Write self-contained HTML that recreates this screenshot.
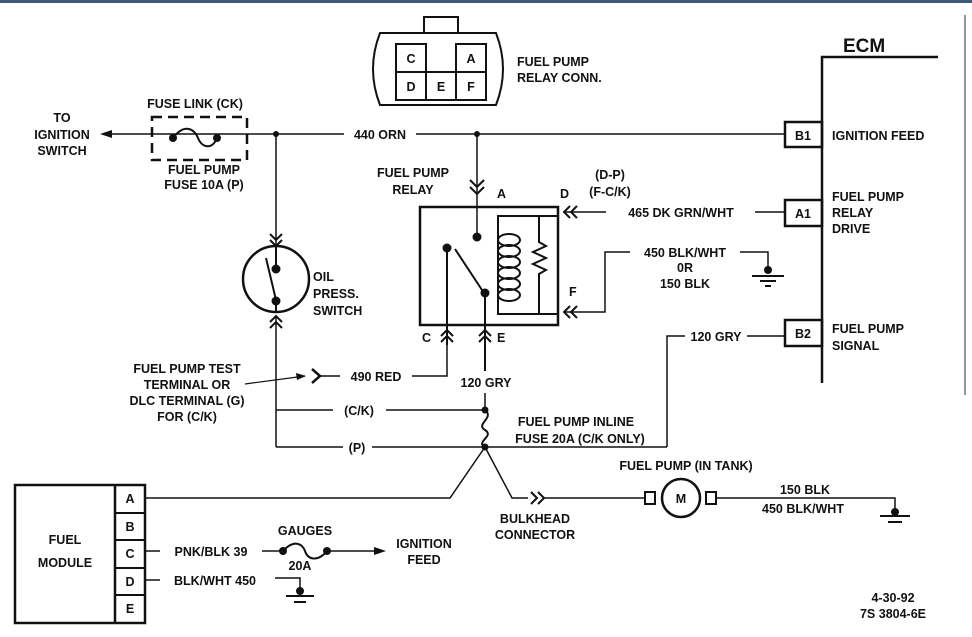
<!DOCTYPE html>
<html><head><meta charset="utf-8"><style>
html,body{margin:0;padding:0;background:#fff;}
svg{display:block;}
text{font-family:"Liberation Sans",sans-serif;font-weight:bold;font-size:12.5px;fill:#111;}
</style></head><body>
<svg width="972" height="637" viewBox="0 0 972 637" xmlns="http://www.w3.org/2000/svg">
<rect x="0" y="0" width="972" height="3" fill="#3c5a7c"/>
<line x1="965" y1="15" x2="965" y2="395" stroke="#777" stroke-width="1.5"/>
<g stroke="#111" stroke-width="2" fill="none">
<path d="M380,33 L496,33 Q510,69 496,105 L380,105 Q366,69 380,33 Z"/>
<rect x="424" y="17" width="34" height="16"/>
<rect x="396" y="44" width="30" height="28"/>
<rect x="456" y="44" width="30" height="28"/>
<rect x="396" y="72" width="30" height="28"/>
<rect x="426" y="72" width="30" height="28"/>
<rect x="456" y="72" width="30" height="28"/>
<polyline points="938,57 822,57 822,383" stroke-width="2.5"/>
<rect x="785" y="122" width="37" height="25" stroke-width="2.5"/>
<rect x="785" y="200" width="37" height="26" stroke-width="2.5"/>
<rect x="785" y="320" width="37" height="26" stroke-width="2.5"/>
<line x1="108" y1="134" x2="344" y2="134" stroke-width="1.5"/>
<line x1="416" y1="134" x2="785" y2="134" stroke-width="1.5"/>
<rect x="152" y="117" width="95" height="43" stroke-dasharray="10,6" stroke-width="2.5"/>
<path d="M173,138 C185,122 195,130 198,138 C202,148 212,150 217,138"/>
<line x1="276" y1="134" x2="276" y2="245" stroke-width="1.5"/>
<polyline points="270,234 276,240 282,234"/><polyline points="270,240 276,246 282,240"/>
<circle cx="276" cy="279" r="33" stroke-width="2.5"/>
<line x1="276" y1="246" x2="276" y2="269"/>
<line x1="266" y1="258" x2="276" y2="300"/>
<line x1="276" y1="300" x2="276" y2="312"/>
<polyline points="270,322 276,316 282,322"/><polyline points="270,328 276,322 282,328"/>
<line x1="276" y1="317" x2="276" y2="447" stroke-width="1.5"/>
<line x1="276" y1="410" x2="333" y2="410" stroke-width="1.5"/>
<line x1="386" y1="410" x2="485" y2="410" stroke-width="1.5"/>
<line x1="276" y1="447" x2="343" y2="447" stroke-width="1.5"/>
<line x1="372" y1="447" x2="667" y2="447" stroke-width="1.5"/>
<line x1="477" y1="134" x2="477" y2="237" stroke-width="1.5"/>
<polyline points="470,180 477,187 484,180"/><polyline points="470,187 477,194 484,187"/>
<rect x="420" y="207" width="138" height="118" stroke-width="2.5"/>
<line x1="447" y1="248" x2="447" y2="345"/>
<line x1="455" y1="249" x2="484" y2="293"/>
<line x1="485" y1="293" x2="485" y2="371"/>
<polyline points="558,216 498,216 498,314 558,314"/>
<ellipse cx="509" cy="240" rx="11" ry="6"/><ellipse cx="509" cy="251" rx="11" ry="6"/>
<ellipse cx="509" cy="262" rx="11" ry="6"/><ellipse cx="509" cy="273" rx="11" ry="6"/>
<ellipse cx="509" cy="284" rx="11" ry="6"/><ellipse cx="509" cy="295" rx="11" ry="6"/>
<polyline points="539,216 539,242 546,246 533,252 546,258 533,264 546,270 539,274 539,314"/>
<polyline points="570,206 564,212 570,218"/><polyline points="577,206 571,212 577,218"/>
<polyline points="570,306 564,312 570,318"/><polyline points="577,306 571,312 577,318"/>
<line x1="564" y1="212" x2="606" y2="212" stroke-width="1.5"/>
<line x1="755" y1="212" x2="785" y2="212" stroke-width="1.5"/>
<polyline points="564,312 605,312 605,252 630,252" stroke-width="1.5"/>
<polyline points="740,252 768,252 768,268" stroke-width="1.5"/>
<line x1="752" y1="276" x2="784" y2="276"/><line x1="760" y1="281" x2="776" y2="281"/><line x1="765" y1="286" x2="771" y2="286"/>
<polyline points="441,336 447,330 453,336"/><polyline points="441,342 447,336 453,342"/>
<polyline points="479,336 485,330 491,336"/><polyline points="479,342 485,336 491,342"/>
<polyline points="447,345 447,376 412,376" stroke-width="1.5"/>
<line x1="320" y1="376" x2="340" y2="376" stroke-width="1.5"/>
<polyline points="312,369 320,376 312,383" stroke-width="2.5"/>
<line x1="245" y1="384" x2="305" y2="376" stroke-width="1.2"/>
<line x1="485" y1="393" x2="485" y2="410" stroke-width="1.5"/>
<path d="M485,410 C495,418 475,424 485,430 C495,436 475,442 485,447"/>
<polyline points="667,447 667,336 685,336" stroke-width="1.5"/>
<line x1="747" y1="336" x2="785" y2="336" stroke-width="1.5"/>
<polyline points="485,447 450,498 145,498" stroke-width="1.5"/>
<polyline points="485,447 512,498 528,498" stroke-width="1.5"/>
<polyline points="531,492 537,498 531,504"/><polyline points="538,492 544,498 538,504"/>
<line x1="544" y1="498" x2="645" y2="498" stroke-width="1.5"/>
<rect x="645" y="492" width="10" height="12"/><rect x="706" y="492" width="10" height="12"/>
<circle cx="681" cy="498" r="19" stroke-width="2.5"/>
<polyline points="716,498 895,498 895,512" stroke-width="1.5"/>
<line x1="880" y1="516" x2="910" y2="516"/><line x1="888" y1="522" x2="902" y2="522"/>
<rect x="15" y="485" width="130" height="138" stroke-width="2.5"/>
<line x1="115" y1="485" x2="115" y2="623" stroke-width="2.5"/>
<line x1="115" y1="513" x2="145" y2="513"/><line x1="115" y1="540" x2="145" y2="540"/>
<line x1="115" y1="568" x2="145" y2="568"/><line x1="115" y1="595" x2="145" y2="595"/>
<line x1="145" y1="551" x2="160" y2="551" stroke-width="1.5"/>
<line x1="262" y1="551" x2="283" y2="551" stroke-width="1.5"/>
<path d="M283,551 C295,538 303,545 305,551 C308,560 318,562 327,551"/>
<line x1="327" y1="551" x2="378" y2="551" stroke-width="1.5"/>
<line x1="145" y1="580" x2="160" y2="580" stroke-width="1.5"/>
<polyline points="275,578 300,578 300,590" stroke-width="1.5"/>
<line x1="286" y1="596" x2="314" y2="596"/><line x1="294" y1="602" x2="306" y2="602"/>
</g>
<g fill="#111">
<circle cx="173" cy="138" r="4"/><circle cx="217" cy="138" r="4"/>
<circle cx="276" cy="134" r="3"/><circle cx="477" cy="134" r="3"/>
<circle cx="276" cy="269" r="4.5"/><circle cx="276" cy="301" r="4.5"/>
<circle cx="477" cy="237" r="4.5"/><circle cx="447" cy="248" r="4.5"/><circle cx="485" cy="293" r="4.5"/>
<circle cx="768" cy="270" r="4"/><circle cx="895" cy="512" r="4"/>
<circle cx="485" cy="410" r="3.5"/><circle cx="485" cy="447" r="3.5"/>
<circle cx="283" cy="551" r="4"/><circle cx="327" cy="551" r="4"/><circle cx="300" cy="591" r="4"/>
<polygon points="100,134 112,130 112,138"/>
<polygon points="386,551 374,547 374,555"/>
<polygon points="306,376 296,373 297,380"/>
</g>
<text x="411" y="63" text-anchor="middle">C</text><text x="471" y="63" text-anchor="middle">A</text>
<text x="411" y="91" text-anchor="middle">D</text><text x="441" y="91" text-anchor="middle">E</text><text x="471" y="91" text-anchor="middle">F</text>
<text x="517" y="66">FUEL PUMP</text><text x="517" y="82">RELAY CONN.</text>
<text x="843" y="52" style="font-size:19px">ECM</text>
<text x="803" y="140" text-anchor="middle">B1</text><text x="803" y="218" text-anchor="middle">A1</text><text x="803" y="338" text-anchor="middle">B2</text>
<text x="832" y="140">IGNITION FEED</text>
<text x="832" y="201">FUEL PUMP</text><text x="832" y="217">RELAY</text><text x="832" y="233">DRIVE</text>
<text x="832" y="333">FUEL PUMP</text><text x="832" y="350">SIGNAL</text>
<text x="62" y="122" text-anchor="middle">TO</text><text x="62" y="139" text-anchor="middle">IGNITION</text><text x="62" y="155" text-anchor="middle">SWITCH</text>
<text x="195" y="108" text-anchor="middle">FUSE LINK (CK)</text>
<text x="204" y="174" text-anchor="middle">FUEL PUMP</text><text x="204" y="189" text-anchor="middle">FUSE 10A (P)</text>
<text x="380" y="139" text-anchor="middle">440 ORN</text>
<text x="313" y="281">OIL</text><text x="313" y="298">PRESS.</text><text x="313" y="315">SWITCH</text>
<text x="413" y="177" text-anchor="middle">FUEL PUMP</text><text x="413" y="194" text-anchor="middle">RELAY</text>
<text x="497" y="198">A</text><text x="560" y="198">D</text><text x="569" y="296">F</text>
<text x="422" y="342">C</text><text x="497" y="342">E</text>
<text x="610" y="179" text-anchor="middle">(D-P)</text><text x="610" y="196" text-anchor="middle">(F-C/K)</text>
<text x="681" y="217" text-anchor="middle">465 DK GRN/WHT</text>
<text x="685" y="257" text-anchor="middle">450 BLK/WHT</text><text x="685" y="272" text-anchor="middle">0R</text><text x="685" y="288" text-anchor="middle">150 BLK</text>
<text x="716" y="341" text-anchor="middle">120 GRY</text>
<text x="376" y="381" text-anchor="middle">490 RED</text>
<text x="486" y="387" text-anchor="middle">120 GRY</text>
<text x="187" y="373" text-anchor="middle">FUEL PUMP TEST</text><text x="187" y="389" text-anchor="middle">TERMINAL OR</text>
<text x="187" y="405" text-anchor="middle">DLC TERMINAL (G)</text><text x="187" y="421" text-anchor="middle">FOR (C/K)</text>
<text x="359" y="415" text-anchor="middle">(C/K)</text><text x="357" y="452" text-anchor="middle">(P)</text>
<text x="576" y="426" text-anchor="middle">FUEL PUMP INLINE</text><text x="580" y="443" text-anchor="middle">FUSE 20A (C/K ONLY)</text>
<text x="686" y="470" text-anchor="middle">FUEL PUMP (IN TANK)</text>
<text x="681" y="503" text-anchor="middle">M</text>
<text x="805" y="494" text-anchor="middle">150 BLK</text><text x="803" y="513" text-anchor="middle">450 BLK/WHT</text>
<text x="535" y="523" text-anchor="middle">BULKHEAD</text><text x="535" y="539" text-anchor="middle">CONNECTOR</text>
<text x="130" y="503" text-anchor="middle">A</text><text x="130" y="531" text-anchor="middle">B</text><text x="130" y="558" text-anchor="middle">C</text>
<text x="130" y="586" text-anchor="middle">D</text><text x="130" y="613" text-anchor="middle">E</text>
<text x="65" y="544" text-anchor="middle">FUEL</text><text x="65" y="567" text-anchor="middle">MODULE</text>
<text x="211" y="556" text-anchor="middle">PNK/BLK 39</text>
<text x="305" y="535" text-anchor="middle">GAUGES</text><text x="300" y="570" text-anchor="middle">20A</text>
<text x="424" y="548" text-anchor="middle">IGNITION</text><text x="424" y="564" text-anchor="middle">FEED</text>
<text x="215" y="585" text-anchor="middle">BLK/WHT 450</text>
<text x="893" y="602" text-anchor="middle">4-30-92</text><text x="893" y="618" text-anchor="middle">7S 3804-6E</text>
</svg>
</body></html>
